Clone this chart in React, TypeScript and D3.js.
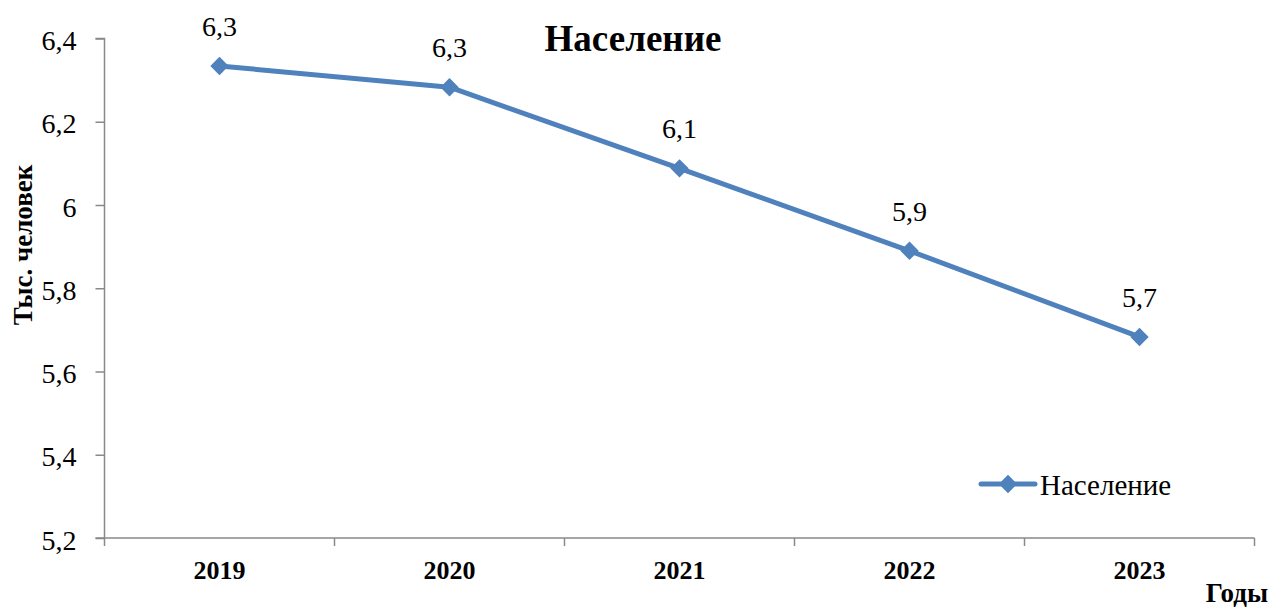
import { useRef, useEffect } from "react";
import * as d3 from "d3";

const years = ["2019", "2020", "2021", "2022", "2023"];
const population = [6.334, 6.283, 6.088, 5.89, 5.683];
const yTicks = [5.2, 5.4, 5.6, 5.8, 6.0, 6.2, 6.4];
const seriesName = "Население";

const fmt = (v: number) => {
  const s = v === 6 ? "6" : v.toFixed(1);
  return s.replace(".", ",");
};

const App = () => {
  const svgRef = useRef<SVGSVGElement>(null);

  useEffect(() => {
    const svg = d3.select(svgRef.current);
    svg.selectAll("*").remove();

    const width = 1271;
    const height = 610;
    const left = 104.5;
    const right = 1254.5;
    const top = 38.5;
    const bottom = 538;
    const blue = "#4f81bd";
    const axisColor = "#898989";

    svg.attr("width", width).attr("height", height);

    const x = d3.scaleBand().domain(years).range([left, right]);
    const y = d3.scaleLinear().domain([5.2, 6.4]).range([bottom, top]);

    // y axis
    const yAxis = svg
      .append("g")
      .attr("transform", `translate(${left},0)`)
      .call(
        d3
          .axisLeft(y)
          .tickValues(yTicks)
          .tickSize(9)
          .tickFormat((d) => fmt(d as number))
      );
    yAxis.attr("font-family", null).attr("font-size", null);
    yAxis.select(".domain").attr("stroke", axisColor).attr("stroke-width", 1.5).attr("d", `M-9,${top}H0V${bottom}`);
    yAxis.selectAll(".tick line").attr("stroke", axisColor).attr("stroke-width", 1.5);
    yAxis
      .selectAll(".tick text")
      .style("font-size", "28px")
      .attr("fill", "#000")
      .attr("x", -28)
      .attr("dy", "0.4em");

    // x axis
    const xAxis = svg.append("g").attr("transform", `translate(0,${bottom})`);
    xAxis
      .append("line")
      .attr("x1", left - 9)
      .attr("x2", right)
      .attr("stroke", axisColor)
      .attr("stroke-width", 1.5);
    const bounds = [...years.map((d) => x(d) as number), right];
    xAxis
      .selectAll("line.tk")
      .data(bounds)
      .join("line")
      .attr("class", "tk")
      .attr("x1", (d) => d)
      .attr("x2", (d) => d)
      .attr("y1", 0)
      .attr("y2", 8)
      .attr("stroke", axisColor)
      .attr("stroke-width", 1.5);
    xAxis
      .selectAll("text")
      .data(years)
      .join("text")
      .attr("x", (d) => (x(d) as number) + x.bandwidth() / 2)
      .attr("y", 41)
      .attr("text-anchor", "middle")
      .style("font-weight", "bold")
      .style("font-size", "26px")
      .text((d) => d);

    // line
    const line = d3
      .line<number>()
      .x((_, i) => (x(years[i]) as number) + x.bandwidth() / 2)
      .y((d) => y(d));
    svg
      .append("path")
      .datum(population)
      .attr("fill", "none")
      .attr("stroke", blue)
      .attr("stroke-width", 5)
      .attr("stroke-linejoin", "round")
      .attr("d", line);

    const diamond = d3.symbol().type(d3.symbolDiamond2).size(215);
    svg
      .selectAll("path.mk")
      .data(population)
      .join("path")
      .attr("class", "mk")
      .attr("d", diamond)
      .attr("fill", blue)
      .attr("transform", (d, i) => `translate(${(x(years[i]) as number) + x.bandwidth() / 2},${y(d)})`);

    svg
      .selectAll("text.lbl")
      .data(population)
      .join("text")
      .attr("class", "lbl")
      .attr("x", (_, i) => (x(years[i]) as number) + x.bandwidth() / 2)
      .attr("y", (d) => y(d) - 30)
      .attr("text-anchor", "middle")
      .style("font-size", "28px")
      .text((d) => fmt(Math.round(d * 10) / 10));

    // title
    svg
      .append("text")
      .attr("x", 633)
      .attr("y", 51)
      .attr("text-anchor", "middle")
      .style("font-weight", "bold")
      .style("font-size", "37px")
      .text(seriesName);

    // axis titles
    svg
      .append("text")
      .attr("transform", "translate(32,245) rotate(-90)")
      .attr("text-anchor", "middle")
      .style("font-weight", "bold")
      .style("font-size", "27px")
      .text("Тыс. человек");
    svg
      .append("text")
      .attr("x", 1268)
      .attr("y", 602)
      .attr("text-anchor", "end")
      .style("font-weight", "bold")
      .style("font-size", "27px")
      .text("Годы");

    // legend
    const lg = svg.append("g").attr("transform", "translate(981,484)");
    lg.append("line")
      .attr("x1", 0)
      .attr("x2", 54)
      .attr("stroke", blue)
      .attr("stroke-width", 5)
      .attr("stroke-linecap", "round");
    lg.append("path").attr("d", diamond).attr("fill", blue).attr("transform", "translate(27,0)");
    lg.append("text")
      .attr("x", 59)
      .attr("y", 11)
      .style("font-size", "29px")
      .text(seriesName);
  }, []);

  return (
    <svg
      ref={svgRef}
      style={{
        position: "absolute",
        left: 0,
        top: 0,
        fontFamily: '"Liberation Serif", Tinos, "Times New Roman", "DejaVu Serif", serif',
      }}
    ></svg>
  );
};

export default App;
